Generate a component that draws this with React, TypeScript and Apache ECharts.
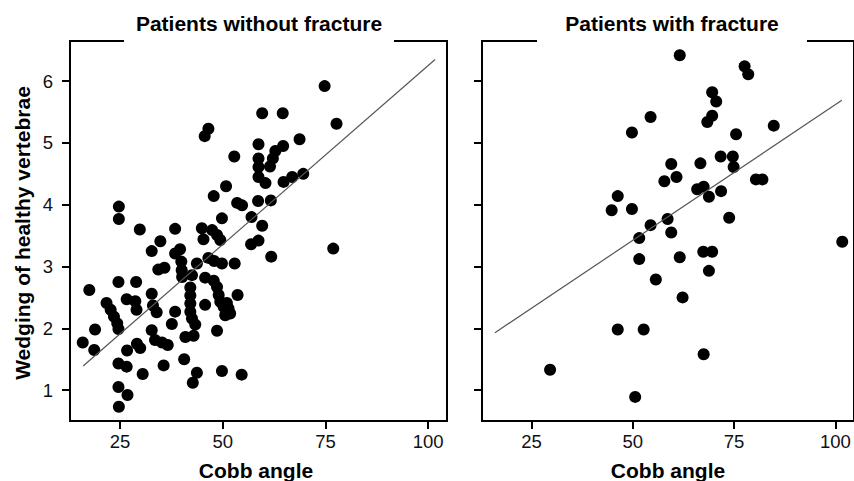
import React, { useEffect, useRef } from "react";
import * as echarts from "echarts";

const panelTitles = ["Patients without fracture", "Patients with fracture"];
const xAxisTitle = "Cobb angle";
const yAxisTitle = "Wedging of healthy vertebrae";
const xTicks = [25, 50, 75, 100];
const yTicks = [1, 2, 3, 4, 5, 6];

const withoutFracture: [number, number][] = [
  [74.8, 5.92], [77.7, 5.31], [59.6, 5.48], [64.6, 5.48], [46.5, 5.23], [45.6, 5.11], [68.7, 5.06], [58.7, 4.98],
  [64.7, 4.95], [62.8, 4.87], [62.2, 4.75], [61.5, 4.62], [52.8, 4.78], [58.7, 4.75], [58.7, 4.61], [58.7, 4.45],
  [60.4, 4.35], [64.8, 4.37], [66.9, 4.45], [69.6, 4.5], [50.8, 4.3], [47.8, 4.14], [53.5, 4.03], [54.7, 3.99],
  [58.6, 4.06], [61.7, 4.07],
  [24.7, 3.97], [24.7, 3.77], [57.0, 3.8], [49.8, 3.78], [59.6, 3.66], [29.8, 3.6], [38.4, 3.61], [44.9, 3.62],
  [47.4, 3.59], [48.6, 3.51], [45.3, 3.44], [49.4, 3.43], [58.7, 3.42], [56.9, 3.36], [34.8, 3.41], [76.9, 3.29],
  [32.7, 3.25], [38.4, 3.21], [39.6, 3.28], [39.9, 3.08], [40.0, 2.94], [40.1, 2.83], [46.5, 3.14], [47.9, 3.09],
  [49.8, 3.05], [52.9, 3.05], [43.7, 3.05], [61.8, 3.16], [34.3, 2.95], [35.8, 2.98],
  [42.5, 2.86], [24.6, 2.75], [28.9, 2.75], [17.5, 2.62], [45.7, 2.82], [47.8, 2.77], [48.6, 2.67], [49.0, 2.54],
  [49.4, 2.43], [51.0, 2.41], [50.2, 2.35], [51.4, 2.32], [51.8, 2.24], [50.6, 2.21], [53.6, 2.54], [32.7, 2.56],
  [42.1, 2.66], [42.1, 2.53], [42.1, 2.4], [42.1, 2.27], [42.5, 2.16], [43.3, 2.06],
  [26.6, 2.47], [28.7, 2.44], [29.0, 2.3], [21.7, 2.41], [22.7, 2.3], [23.5, 2.19], [24.3, 2.08], [24.6, 1.99],
  [33.0, 2.37], [33.9, 2.26], [45.7, 2.38], [38.4, 2.27], [37.6, 2.07],
  [18.9, 1.98], [15.9, 1.77], [18.7, 1.65], [29.1, 1.75], [29.9, 1.68], [26.7, 1.64], [32.7, 1.97], [33.5, 1.81],
  [35.2, 1.77], [36.6, 1.73], [48.6, 1.96], [40.9, 1.86], [42.9, 1.88],
  [24.6, 1.43], [26.6, 1.38], [35.6, 1.4], [30.5, 1.26], [40.6, 1.5], [43.7, 1.28], [42.7, 1.12], [49.8, 1.31],
  [54.6, 1.25], [24.6, 1.05], [26.8, 0.92], [24.7, 0.73],
];

const withFracture: [number, number][] = [
  [61.6, 6.42], [54.4, 5.42], [49.8, 5.17], [59.5, 4.66], [60.8, 4.45], [57.8, 4.38], [46.3, 4.14], [44.8, 3.91],
  [49.8, 3.93], [54.4, 3.67], [58.6, 3.77], [59.5, 3.55], [51.6, 3.46], [51.6, 3.12], [61.6, 3.15], [55.7, 2.79],
  [62.3, 2.5], [46.3, 1.98], [52.7, 1.98], [29.6, 1.33], [50.6, 0.89],
  [77.6, 6.24], [78.5, 6.11], [69.6, 5.82], [70.6, 5.67], [69.6, 5.44], [68.4, 5.34], [84.8, 5.28], [75.5, 5.14],
  [66.7, 4.67], [71.7, 4.78], [74.7, 4.78], [74.9, 4.61], [80.4, 4.41], [82.0, 4.41], [65.9, 4.25], [67.5, 4.29],
  [68.8, 4.13], [71.8, 4.22], [73.8, 3.79], [101.7, 3.4], [67.4, 3.24], [69.6, 3.24], [68.8, 2.93], [67.5, 1.58],
];

const fitWithout: [number, number][] = [[16, 1.39], [101.7, 6.35]];
const fitWith: [number, number][] = [[16, 1.93], [101.6, 5.69]];

const FONT = '"Liberation Sans", Arial, Helvetica, sans-serif';

export default function App() {
  const ref = useRef<HTMLDivElement>(null);
  useEffect(() => {
    if (!ref.current) return;
    const chart = echarts.init(ref.current, undefined, { renderer: "svg" });
    const grids = [
      { left: 70, top: 41, width: 377, height: 380 },
      { left: 482, top: 41, width: 376, height: 380 },
    ];
    const option: any = {
      animation: false,
      backgroundColor: "#fff",
      grid: grids.map((g) => ({ ...g, show: true, borderColor: "#000", borderWidth: 2, containLabel: false })),
      xAxis: [0, 1].map((i) => ({
        type: "value",
        gridIndex: i,
        min: 12.8,
        max: 104.6,
        splitLine: { show: false },
        axisLine: { show: true, lineStyle: { color: "#000", width: 2 } },
        axisTick: { show: true, length: 8, lineStyle: { color: "#000", width: 2 }, customValues: xTicks },
        axisLabel: { show: true, margin: 11, fontSize: 18.5, color: "#111", fontFamily: FONT, customValues: xTicks },
      })),
      yAxis: [0, 1].map((i) => ({
        type: "value",
        gridIndex: i,
        min: 0.5,
        max: 6.65,
        splitLine: { show: false },
        axisLine: { show: true, lineStyle: { color: "#000", width: 2 } },
        axisTick: { show: true, length: 8, lineStyle: { color: "#000", width: 2 }, customValues: yTicks },
        axisLabel: { show: i === 0, margin: 17, fontSize: 18.5, color: "#111", fontFamily: FONT, customValues: yTicks },
      })),
      series: [
        { type: "line", xAxisIndex: 0, yAxisIndex: 0, data: fitWithout, symbol: "none", silent: true, lineStyle: { color: "#555", width: 1.2 } },
        { type: "scatter", xAxisIndex: 0, yAxisIndex: 0, data: withoutFracture, symbolSize: 12, itemStyle: { color: "#000", opacity: 1 } },
        { type: "line", xAxisIndex: 1, yAxisIndex: 1, data: fitWith, symbol: "none", silent: true, lineStyle: { color: "#555", width: 1.2 } },
        { type: "scatter", xAxisIndex: 1, yAxisIndex: 1, data: withFracture, symbolSize: 12, itemStyle: { color: "#000", opacity: 1 } },
      ],
      graphic: [
        { type: "rect", z: 100, shape: { x: 124, y: 37, width: 270, height: 8 }, style: { fill: "#fff" } },
        { type: "rect", z: 100, shape: { x: 537, y: 37, width: 270, height: 8 }, style: { fill: "#fff" } },
        { type: "text", z: 101, x: 259, y: 23, style: { text: panelTitles[0], fontSize: 21, fontWeight: "bold", fontFamily: FONT, fill: "#000", align: "center", verticalAlign: "middle" } },
        { type: "text", z: 101, x: 672, y: 23, style: { text: panelTitles[1], fontSize: 21, fontWeight: "bold", fontFamily: FONT, fill: "#000", align: "center", verticalAlign: "middle" } },
        { type: "text", z: 101, x: 256, y: 470, style: { text: xAxisTitle, fontSize: 21, fontWeight: "bold", fontFamily: FONT, fill: "#000", align: "center", verticalAlign: "middle" } },
        { type: "text", z: 101, x: 668, y: 470, style: { text: xAxisTitle, fontSize: 21, fontWeight: "bold", fontFamily: FONT, fill: "#000", align: "center", verticalAlign: "middle" } },
        { type: "text", z: 101, x: 22, y: 233, rotation: Math.PI / 2, style: { text: yAxisTitle, fontSize: 21, fontWeight: "bold", fontFamily: FONT, fill: "#000", align: "center", verticalAlign: "middle" } },
      ],
    };
    chart.setOption(option);
    return () => chart.dispose();
  }, []);
  return <div ref={ref} style={{ position: "absolute", left: 0, top: 0, width: 854, height: 481, background: "#fff" }} />;
}
